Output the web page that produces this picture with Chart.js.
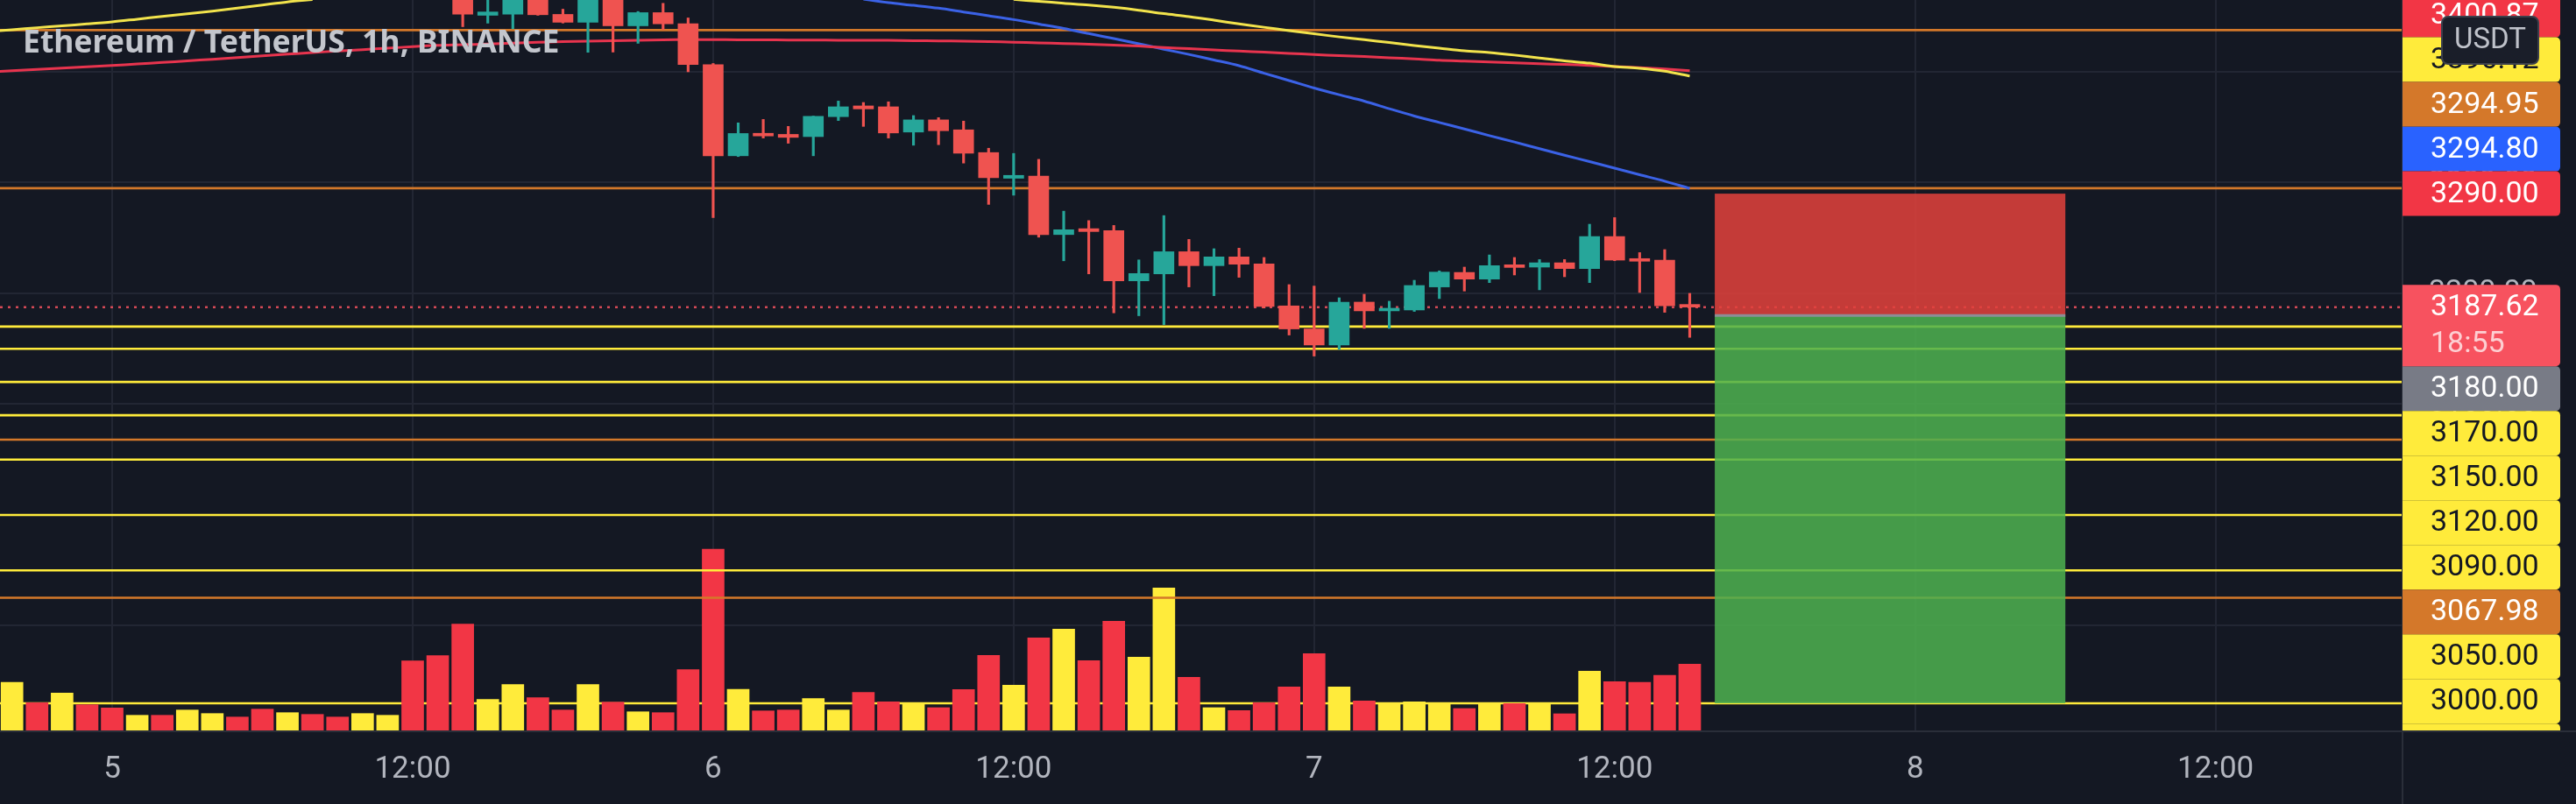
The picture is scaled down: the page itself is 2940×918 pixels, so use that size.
<!DOCTYPE html>
<html>
<head>
<meta charset="utf-8">
<script src="https://cdn.jsdelivr.net/npm/chart.js@4.4.1/dist/chart.umd.min.js"></script>
<style>
  html, body { margin: 0; padding: 0; background: #141823; }
  #wrap { width: 2940px; height: 918px; }
</style>
</head>
<body>
<div id="wrap"><canvas id="chart" width="2940" height="918"></canvas></div>
<script>
// ETH/USDT 1h, BINANCE. Hour 0 = day 5 00:00, first candle is hour -4
const firstHour = -4;
const maFirstHour = -5;
const title = 'Ethereum / TetherUS, 1h, BINANCE';
const tickHours = [0, 12, 24, 36, 48, 60, 72, 84];
const dayNames = ['5', '6', '7', '8'];
const priceTicks = [2900, 3000, 3100, 3200, 3300, 3400];
const xRange = [-4.48, 91.43];
const yRange = [2805.5, 3464.8];

// candles above the visible window are left empty (null)
const opens = [null, null, null, null, null, null, null, null, null, null, null, null, null, null, null, null, null, null,
  3475, 3451, 3452, 3468, 3451.8, 3444.7, 3467, 3441.5, 3453.4, 3443.3,
  3406.5, 3324.2, 3344.3, 3343.5, 3341.5, 3359.5, 3369.2, 3368.4, 3345.6, 3356.6,
  3347.6, 3327.1, 3303.9, 3305.8, 3253.1, 3258.4, 3256.6, 3211.3, 3217.6, 3237.6,
  3225, 3232.9, 3226.5, 3188.7, 3167.9, 3153.4, 3192.1, 3184.2, 3185, 3205.8,
  3218.9, 3212.9, 3225.8, 3223.7, 3227.6, 3222.4, 3251.3, 3231.1, 3230, 3188.7];
const highs = [null, null, null, null, null, null, null, null, null, null, null, null, null, null, null, null, null, null,
  3482, 3468, 3472, 3471, 3456.5, 3470, 3470, 3454.4, 3461.8, 3448.6,
  3407.5, 3353.9, 3357, 3350.7, 3360, 3373.6, 3372.3, 3372.9, 3360.5, 3358.6,
  3355.5, 3331, 3326.3, 3321, 3274.2, 3265.7, 3261.3, 3230.2, 3270.2, 3248.7,
  3240.3, 3240.8, 3232.4, 3207.9, 3206.6, 3196, 3199.2, 3192.9, 3211.8, 3220.3,
  3223.7, 3234.7, 3232.4, 3230.5, 3230.5, 3262.4, 3268.4, 3236.8, 3239.5, 3200];
const lows = [null, null, null, null, null, null, null, null, null, null, null, null, null, null, null, null, null, null,
  3440.7, 3443.9, 3438.8, 3451, 3444, 3417.6, 3417.8, 3425.7, 3438, 3400,
  3268.4, 3323.5, 3340.2, 3335.5, 3324.2, 3356, 3350.7, 3340.2, 3333.7, 3334.2,
  3317.6, 3280.3, 3288.6, 3250.7, 3229.4, 3217.6, 3182.4, 3179.8, 3171.8, 3205.8,
  3197.9, 3214.5, 3186.8, 3162.4, 3143.4, 3149.5, 3168.4, 3168.4, 3183.7, 3195.3,
  3202.1, 3209.7, 3216.6, 3203.2, 3215, 3209.7, 3229.5, 3200.8, 3182.9, 3160.3];
const closes = [null, null, null, null, null, null, null, null, null, null, null, null, null, null, null, null, null, null,
  3452, 3454, 3469, 3451.5, 3444.7, 3467, 3441.5, 3453.4, 3443.3, 3406.5,
  3324.2, 3344.3, 3342.1, 3340.8, 3359.8, 3368.4, 3366.5, 3344.8, 3356.6, 3346.8,
  3326.5, 3304.4, 3306.5, 3253.1, 3257.4, 3255.8, 3211.3, 3217.9, 3237.6, 3225,
  3232.9, 3226.3, 3188.2, 3167.9, 3153.4, 3192.1, 3184.2, 3186.3, 3207.1, 3219.2,
  3212.9, 3225, 3223.4, 3227.6, 3222.4, 3251.3, 3230, 3229, 3188.7, 3187.62];

const volumes = [5500, 3170, 4270, 2930, 2570, 1730, 1730, 2330, 1930, 1530,
  2430, 2030, 1830, 1530, 1930, 1730, 7930, 8530, 12130, 3530,
  5230, 3730, 2330, 5230, 3230, 2130, 2030, 6930, 20700, 4700,
  2230, 2330, 3630, 2330, 4330, 3270, 3030, 2600, 4670, 8570,
  5170, 10570, 11570, 7970, 12470, 8370, 16270, 6070, 2600, 2270,
  3170, 4970, 8770, 4970, 3370, 3030, 3270, 3030, 2500, 3170,
  3070, 3170, 1900, 6770, 5570, 5500, 6300, 7570];
// 1 = up bar, 0 = down bar
const volumeUp = [1, 0, 1, 0, 0, 1, 0, 1, 1, 0, 0, 1, 0, 0, 1, 1, 0, 0, 0, 1,
  1, 0, 0, 1, 0, 1, 0, 0, 0, 1, 0, 0, 1, 1, 0, 0, 1, 0, 0, 0,
  1, 0, 1, 0, 0, 1, 1, 0, 1, 0, 0, 0, 0, 1, 0, 1, 1, 1, 0, 1,
  0, 1, 0, 1, 0, 0, 0, 0];

// moving averages from hour -5 (null where they run above the window)
const yellowMA = [3436.3, 3438, 3439.8, 3441.5, 3443.2, 3445.1, 3447.5, 3449.9, 3452.3, 3454.7, 3457.5, 3460.3, 3463.1, 3465.2,
  null, null, null, null, null, null, null, null, null, null, null, null, null, null,
  null, null, null, null, null, null, null, null, null, null, null, null, null,
  3465.3, 3463.6, 3461.9, 3460.3, 3458.2, 3455.6, 3452.5, 3449.8, 3446.6, 3443.2,
  3440.2, 3437.2, 3434.3, 3431.5, 3429, 3426.4, 3423.7, 3421.3, 3418.9, 3417.4,
  3415.1, 3412.4, 3409.8, 3407.8, 3404.7, 3403.2, 3400.6, 3396.12];
const redMA = [3399.7, 3400.9, 3402.1, 3403.4, 3404.6, 3405.8, 3407, 3408.4, 3409.9, 3411.3, 3412.8,
  3414.4, 3415.9, 3417.4, 3418.7, 3420, 3421.3, 3422.7, 3423.8, 3424.4, 3425.1,
  3425.8, 3426.6, 3427.2, 3427.7, 3428.1, 3428.5, 3428.9, 3429.1, 3429, 3428.9,
  3428.8, 3428.7, 3428.6, 3428.5, 3428.5, 3428.4, 3428.1, 3427.9, 3427.6, 3427.2,
  3426.7, 3426.1, 3425.5, 3424.9, 3424.1, 3423.2, 3421.9, 3420.9, 3419.8, 3418.7,
  3417.7, 3416.6, 3415.6, 3414.6, 3413.8, 3412.7, 3411.7, 3410.4, 3409.6, 3408.8,
  3408.1, 3407.3, 3406.6, 3405.8, 3404.7, 3403.8, 3402.5, 3400.87];
const blueMA = [null, null, null, null, null, null, null, null, null, null, null,
  null, null, null, null, null, null, null, null, null, null,
  null, null, null, null, null, null, null, null, null, null, null, null, null, null,
  3465.5, 3462.4, 3460, 3457.4, 3454, 3450.6, 3447.1, 3443.1, 3439.1, 3434.5,
  3430, 3425.3, 3420.4, 3415.7, 3410.7, 3405.5, 3398.7, 3392.1, 3385.4, 3379.3,
  3373.5, 3366.7, 3360.1, 3354.2, 3348.4, 3342.4, 3336.6, 3330.6, 3324.7, 3318.9,
  3313, 3307.1, 3301.3, 3294.8];

// drawn horizontal levels
const yellowLevels = [3170, 3150, 3120, 3090, 3050, 3000, 2950, 2830];
const orangeLevels = [3437.6, 3294.95, 3067.98, 2925.3];

// short position tool
const positionHours = [64, 78];
const positionPrices = [3290, 3180, 2830]; // stop, entry, target
const countdown = '18:55';

const C = {
  bg: '#141823', grid: '#222633', sep: '#2a2e39', text: '#b2b5be',
  up: '#26a69a', down: '#ef5350', volUp: '#ffeb3b', volDown: '#f23645',
  yellow: '#ffeb3b', orange: '#d4782a', red: '#f23645', blue: '#2962ff', gray: '#787b86',
  last: '#f7525f', maYellow: '#f2e34c', maRed: '#e8344e', maBlue: '#3b62e6'
};

Chart.defaults.font.family = 'Roboto';

const idx = [];
opens.forEach((o, i) => { if (o !== null) idx.push(i); });
const bodies = idx.map(i => ({ x: firstHour + i, y: [opens[i], closes[i]] }));
const wicks = idx.map(i => ({ x: firstHour + i, y: [lows[i], highs[i]] }));
const candleColors = idx.map(i => closes[i] >= opens[i] ? C.up : C.down);

function levelLine(price, color, order) {
  return {
    type: 'line', data: [{ x: xRange[0], y: price }, { x: xRange[1], y: price }],
    borderColor: color, borderWidth: 2.6, pointRadius: 0, order: order
  };
}
function maLine(values, color) {
  return {
    type: 'line', data: values.map((v, i) => ({ x: maFirstHour + i, y: v })),
    borderColor: color, borderWidth: 3, pointRadius: 0, tension: 0.3, spanGaps: false, order: 3
  };
}

const lastClose = closes[closes.length - 1];

const datasets = [
  { type: 'bar', data: bodies, backgroundColor: candleColors, barThickness: 23, minBarLength: 3, grouped: false, order: 1 },
  { type: 'bar', data: wicks, backgroundColor: candleColors, barThickness: 2.5, grouped: false, order: 2 },
  maLine(yellowMA, C.maYellow),
  maLine(redMA, C.maRed),
  maLine(blueMA, C.maBlue),
  {
    type: 'bar', yAxisID: 'yv',
    data: volumes.map((v, i) => ({ x: firstHour + i, y: v })),
    backgroundColor: volumeUp.map(u => u ? C.volUp : C.volDown),
    barThickness: 25, grouped: false, order: 5
  },
  {
    type: 'line', data: [{ x: xRange[0], y: lastClose }, { x: xRange[1], y: lastClose }],
    borderColor: 'rgba(247,82,95,0.85)', borderWidth: 2.5, borderDash: [3, 6], pointRadius: 0, order: 4
  }
];
yellowLevels.forEach(p => datasets.push(levelLine(p, C.yellow, p === 2830 ? 6 : 4)));
orangeLevels.forEach(p => datasets.push(levelLine(p, C.orange, 4)));

// labels shown on the price scale
function scaleLabels() {
  const list = [
    { v: redMA[redMA.length - 1], bg: C.red, fg: '#ffffff' },
    { v: yellowMA[yellowMA.length - 1], bg: C.yellow, fg: '#131722' },
    { v: blueMA[blueMA.length - 1], bg: C.blue, fg: '#ffffff' },
    { v: positionPrices[0], bg: C.red, fg: '#ffffff' },
    { v: positionPrices[1], bg: C.gray, fg: '#ffffff' }
  ];
  yellowLevels.forEach(p => list.push({ v: p, bg: C.yellow, fg: '#131722' }));
  orangeLevels.forEach(p => list.push({ v: p, bg: C.orange, fg: '#ffffff' }));
  return list;
}

const overlay = {
  id: 'overlay',
  beforeDraw(chart) {
    const ctx = chart.ctx;
    ctx.save();
    ctx.fillStyle = C.bg;
    ctx.fillRect(0, 0, chart.width, chart.height);
    ctx.restore();
  },
  afterDatasetsDraw(chart) {
    const { ctx, chartArea: a, scales: { x, y } } = chart;
    const x0 = x.getPixelForValue(positionHours[0]);
    const x1 = x.getPixelForValue(positionHours[1]);
    const yStop = y.getPixelForValue(positionPrices[0]);
    const yEntry = y.getPixelForValue(positionPrices[1]);
    const yTarget = y.getPixelForValue(positionPrices[2]);
    ctx.save();
    ctx.beginPath();
    ctx.rect(a.left, a.top, a.right - a.left, a.bottom - a.top);
    ctx.clip();
    ctx.fillStyle = 'rgba(226,65,59,0.86)';
    ctx.fillRect(x0, yStop, x1 - x0, yEntry - yStop);
    ctx.fillStyle = 'rgba(78,177,79,0.86)';
    ctx.fillRect(x0, yEntry, x1 - x0, yTarget - yEntry);
    ctx.strokeStyle = '#8b8e97';
    ctx.lineWidth = 3;
    ctx.beginPath();
    ctx.moveTo(x0, yEntry);
    ctx.lineTo(x1, yEntry);
    ctx.stroke();
    ctx.restore();
  },
  afterDraw(chart) {
    const { ctx, chartArea: a, scales: { y } } = chart;
    ctx.save();
    // pane separators
    ctx.strokeStyle = C.sep;
    ctx.lineWidth = 2;
    ctx.beginPath();
    ctx.moveTo(0, a.bottom + 1);
    ctx.lineTo(chart.width, a.bottom + 1);
    ctx.moveTo(a.right + 1, 0);
    ctx.lineTo(a.right + 1, chart.height);
    ctx.stroke();

    // price scale labels, stacked so they don't overlap
    const h = 51;
    const left = a.right + 1;
    const w = 180;
    const yLast = y.getPixelForValue(lastClose);
    const lastTop = yLast - h / 2;
    const lastBottom = lastTop + 93;
    const items = scaleLabels().map(l => Object.assign({}, l, { py: y.getPixelForValue(l.v) }));
    const above = items.filter(l => l.py < yLast).sort((p, q) => q.py - p.py);
    const below = items.filter(l => l.py >= yLast).sort((p, q) => p.py - q.py);
    let edge = lastTop;
    above.forEach(l => { l.cy = Math.min(l.py, edge - h / 2); edge = l.cy - h / 2; });
    edge = lastBottom;
    below.forEach(l => { l.cy = Math.max(l.py, edge + h / 2); edge = l.cy + h / 2; });

    ctx.beginPath();
    ctx.rect(left, 0, chart.width - left, a.bottom);
    ctx.clip();
    ctx.font = '34px Roboto';
    ctx.textBaseline = 'middle';
    ctx.textAlign = 'left';
    const tx = left + 32;
    items.forEach(l => {
      ctx.fillStyle = l.bg;
      ctx.beginPath();
      ctx.roundRect(left, l.cy - h / 2, w, h, [0, 5, 5, 0]);
      ctx.fill();
      ctx.fillStyle = l.fg;
      ctx.fillText(l.v.toFixed(2), tx, l.cy + 1);
    });
    // last price with countdown
    ctx.fillStyle = C.last;
    ctx.beginPath();
    ctx.roundRect(left, lastTop, w, lastBottom - lastTop, [0, 5, 5, 0]);
    ctx.fill();
    ctx.fillStyle = '#ffffff';
    ctx.fillText(lastClose.toFixed(2), tx, yLast + 1);
    ctx.fillStyle = 'rgba(255,255,255,0.72)';
    ctx.fillText(countdown, tx, yLast + 43);
    ctx.restore();

    // title
    ctx.save();
    ctx.font = 'bold 35.5px "Noto Sans"';
    ctx.fillStyle = '#c3c6cd';
    ctx.textBaseline = 'middle';
    ctx.fillText(title, 26, 50);

    // currency badge
    ctx.fillStyle = '#1a1e29';
    ctx.strokeStyle = '#3c404b';
    ctx.lineWidth = 2;
    ctx.beginPath();
    ctx.roundRect(2787, 19, 110, 54, 7);
    ctx.fill();
    ctx.stroke();
    ctx.font = '33px Roboto';
    ctx.fillStyle = '#bfc2ca';
    ctx.textAlign = 'center';
    ctx.fillText('USDT', 2842, 47);
    ctx.restore();
  }
};

new Chart(document.getElementById('chart'), {
  type: 'bar',
  data: { datasets: datasets },
  options: {
    responsive: false,
    animation: false,
    devicePixelRatio: 1,
    layout: { padding: 0 },
    plugins: { legend: { display: false }, tooltip: { enabled: false } },
    scales: {
      x: {
        type: 'linear', min: xRange[0], max: xRange[1], offset: false,
        afterBuildTicks: s => { s.ticks = tickHours.map(v => ({ value: v })); },
        afterFit: s => { s.height = 84; s.paddingLeft = 0; s.paddingRight = 0; },
        grid: { color: C.grid, lineWidth: 2, drawTicks: false, offset: false },
        border: { display: false },
        ticks: {
          color: C.text, font: { size: 35 }, padding: 24, maxRotation: 0, autoSkip: false,
          callback: v => (v % 24 === 0 ? dayNames[v / 24] : '12:00')
        }
      },
      y: {
        position: 'right', min: yRange[0], max: yRange[1],
        afterBuildTicks: s => { s.ticks = priceTicks.map(v => ({ value: v })); },
        afterFit: s => { s.width = 199; s.paddingTop = 0; s.paddingBottom = 0; },
        grid: { color: C.grid, lineWidth: 2, drawTicks: false },
        border: { display: false },
        ticks: { color: C.text, font: { size: 34 }, padding: 31, callback: v => v.toFixed(2) }
      },
      yv: { display: false, min: 0, max: 83400 }
    }
  },
  plugins: [overlay]
});
</script>
</body>
</html>
